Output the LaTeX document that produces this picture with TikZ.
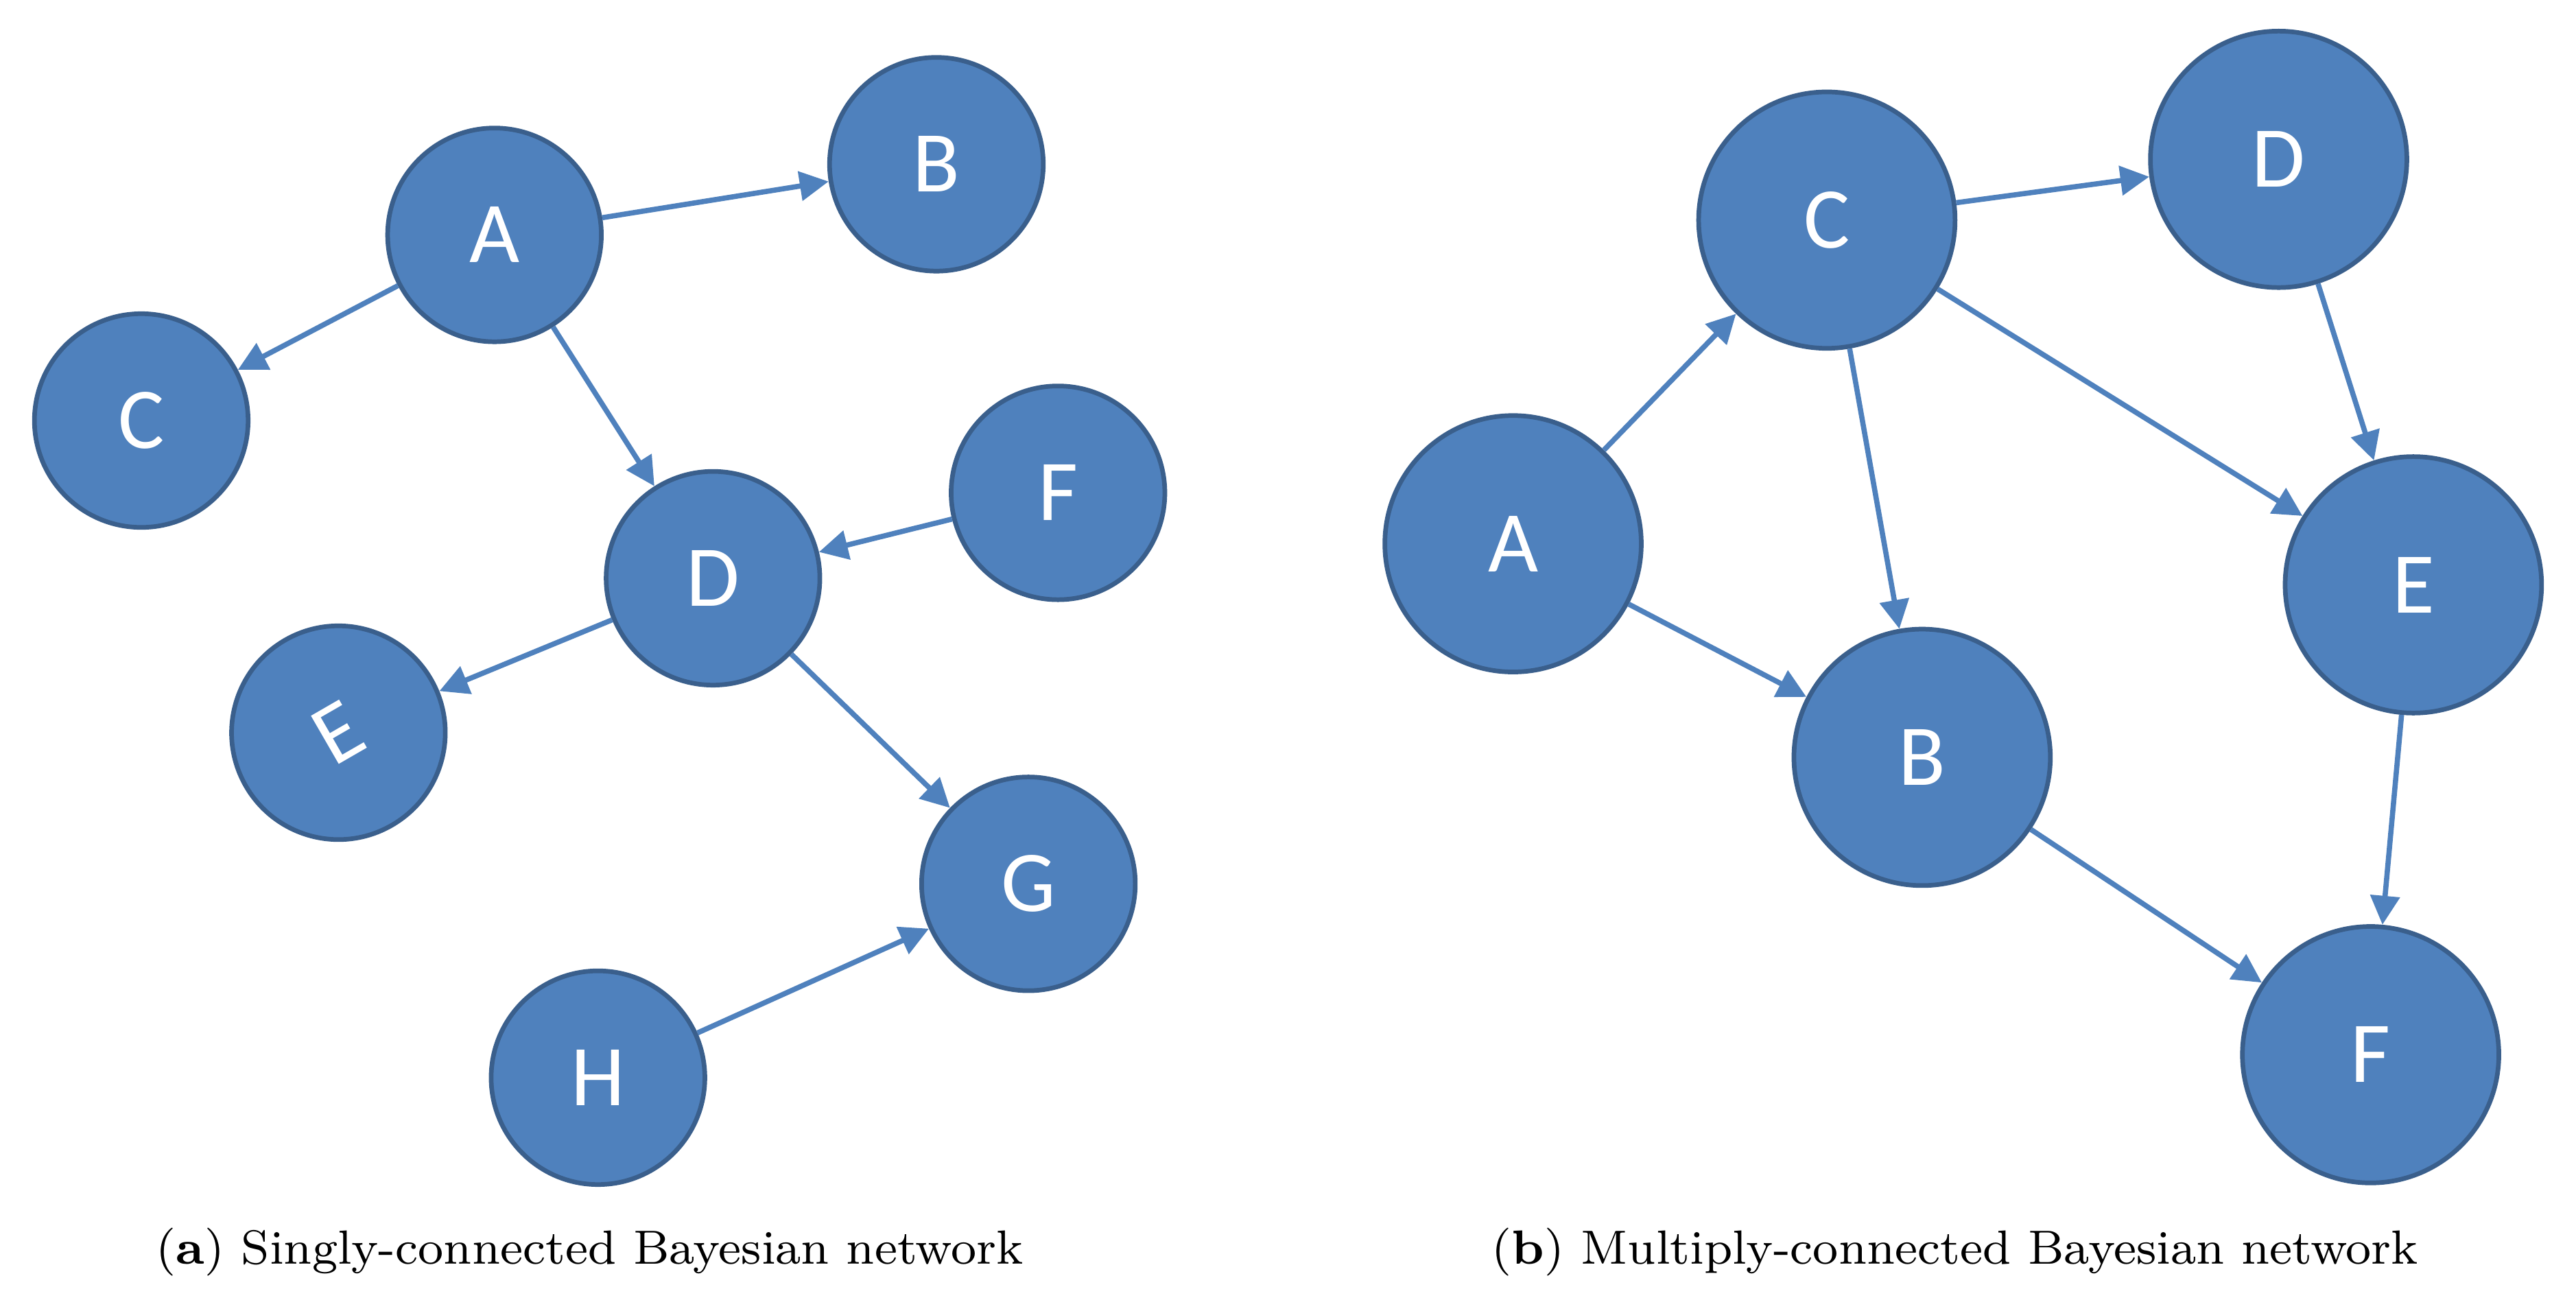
\documentclass[tikz,border=0pt]{standalone}
\usepackage{fontspec}
\usepackage{xcolor}
\usetikzlibrary{arrows.meta}
\newfontfamily\nodefont{Carlito}
\definecolor{bnfill}{HTML}{4F81BD}
\definecolor{bnedge}{HTML}{3A5F8C}
\begin{document}
\begin{tikzpicture}[x=0.01cm, y=-0.01cm,
    bn/.style={circle, draw=bnedge, fill=bnfill, line width=0.8pt, text=white,
               font=\nodefont\fontsize{15}{15}\selectfont, inner sep=0pt},
    small/.style={bn, minimum size=1.30cm},
    big/.style={bn, minimum size=1.56cm},
    link/.style={draw=bnfill, line width=0.9pt, -{Triangle[length=5pt,width=5pt]}}]
    \useasboundingbox (0,0) rectangle (1568,798);
    % (a)
    \node[small] (aA) at (301,143) {A};
    \node[small] (aB) at (570,100) {B};
    \node[small] (aC) at (86,256) {C};
    \node[small] (aD) at (434,352) {D};
    \node[small, rotate=30] (aE) at (206,446) {E};
    \node[small] (aF) at (644,300) {F};
    \node[small] (aG) at (626,538) {G};
    \node[small] (aH) at (364,656) {H};
    \draw[link] (aA) -- (aB);
    \draw[link] (aA) -- (aC);
    \draw[link] (aA) -- (aD);
    \draw[link] (aF) -- (aD);
    \draw[link] (aD) -- (aE);
    \draw[link] (aD) -- (aG);
    \draw[link] (aH) -- (aG);
    % (b)
    \node[big] (bA) at (921,331) {A};
    \node[big] (bC) at (1112,134) {C};
    \node[big] (bD) at (1387,97) {D};
    \node[big] (bB) at (1170,461) {B};
    \node[big] (bE) at (1469,356) {E};
    \node[big] (bF) at (1443,642) {F};
    \draw[link] (bA) -- (bC);
    \draw[link] (bA) -- (bB);
    \draw[link] (bC) -- (bD);
    \draw[link] (bC) -- (bB);
    \draw[link] (bC) -- (bE);
    \draw[link] (bD) -- (bE);
    \draw[link] (bE) -- (bF);
    \draw[link] (bB) -- (bF);
    % captions
    \node[font=\fontsize{8.3}{10}\selectfont] (capa) at (359,762) {(\textbf{a}) Singly-connected Bayesian network};
    \node[font=\fontsize{8.3}{10}\selectfont] (capb) at (1190,762) {(\textbf{b}) Multiply-connected Bayesian network};
\end{tikzpicture}
\end{document}
